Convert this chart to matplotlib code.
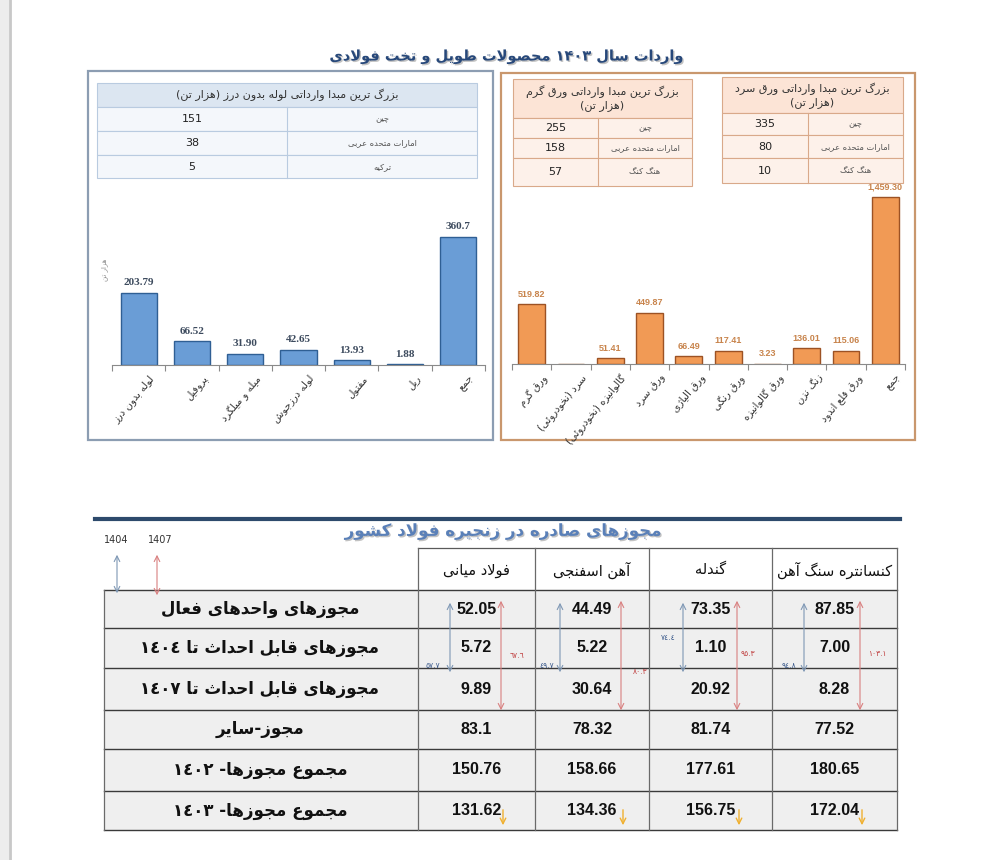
import re
import numpy as np
import matplotlib
matplotlib.use('Agg')
import matplotlib.pyplot as plt
import matplotlib.patheffects as pe
from matplotlib.patches import Rectangle

plt.rcParams['font.family'] = ['DejaVu Sans']

W, H = 984, 860

# --- data -------------------------------------------------------------
title_top = 'واردات سال ۱۴۰۳ محصولات طویل و تخت فولادی'

long_cats = ['لوله بدون درز', 'پروفیل', 'میله و میلگرد', 'لوله درزجوش', 'مفتول', 'ریل', 'جمع']
long_vals = [203.79, 66.52, 31.90, 42.65, 13.93, 1.88, 360.7]
long_lbls = ['203.79', '66.52', '31.90', '42.65', '13.93', '1.88', '360.7']

flat_cats = ['ورق گرم', 'سرد (نخودروئی)', 'گالوانیزه (نخودروئی)', 'ورق سرد', 'ورق الیاژی',
             'ورق رنگی', 'ورق گالوانیزه', 'زنگ نزن', 'ورق قلع اندود', 'جمع']
flat_vals = [519.82, 0, 51.41, 449.87, 66.49, 117.41, 3.23, 136.01, 115.06, 1459.30]

pipe_title = 'بزرگ ترین مبدا وارداتی لوله بدون درز (هزار تن)'
pipe_src = ['چین', 'امارات متحده عربی', 'ترکیه']
pipe_amt = [151, 38, 5]

hot_title = ['بزرگ ترین مبدا وارداتی ورق گرم', '(هزار تن)']
hot_src = ['چین', 'امارات متحده عربی', 'هنگ کنگ']
hot_amt = [255, 158, 57]

cold_title = ['بزرگ ترین مبدا وارداتی ورق سرد', '(هزار تن)']
cold_src = ['چین', 'امارات متحده عربی', 'هنگ کنگ']
cold_amt = [335, 80, 10]

title_bottom = 'مجوزهای صادره در زنجیره فولاد کشور'
products = ['فولاد میانی', 'آهن اسفنجی', 'گندله', 'کنسانتره سنگ آهن']
row_names = ['مجوزهای واحدهای فعال', 'مجوزهای قابل احداث تا ١٤٠٤', 'مجوزهای قابل احداث تا ١٤٠٧',
             'مجوز-سایر', 'مجموع مجوزها- ١٤٠٢', 'مجموع مجوزها- ١٤٠٣']
permits = [
    ['52.05', '44.49', '73.35', '87.85'],
    ['5.72', '5.22', '1.10', '7.00'],
    ['9.89', '30.64', '20.92', '8.28'],
    ['83.1', '78.32', '81.74', '77.52'],
    ['150.76', '158.66', '177.61', '180.65'],
    ['131.62', '134.36', '156.75', '172.04'],
]
cap_1404 = ['٥٧.٧', '٤٩.٧', '٧٤.٤', '٩٤.٨']
cap_1407 = ['٦٧.٦', '٨٠.٣', '٩٥.٣', '١٠٣.١']

# --- poor man's arabic shaping (matplotlib has no bidi) ---------------
FORMS = {
    'ا': ('\uFE8D', '\uFE8E'), 'آ': ('\uFE81', '\uFE82'),
    'ب': ('\uFE8F', '\uFE90', '\uFE91', '\uFE92'), 'پ': ('\uFB56', '\uFB57', '\uFB58', '\uFB59'),
    'ت': ('\uFE95', '\uFE96', '\uFE97', '\uFE98'), 'ث': ('\uFE99', '\uFE9A', '\uFE9B', '\uFE9C'),
    'ج': ('\uFE9D', '\uFE9E', '\uFE9F', '\uFEA0'), 'چ': ('\uFB7A', '\uFB7B', '\uFB7C', '\uFB7D'),
    'ح': ('\uFEA1', '\uFEA2', '\uFEA3', '\uFEA4'), 'خ': ('\uFEA5', '\uFEA6', '\uFEA7', '\uFEA8'),
    'د': ('\uFEA9', '\uFEAA'), 'ذ': ('\uFEAB', '\uFEAC'), 'ر': ('\uFEAD', '\uFEAE'),
    'ز': ('\uFEAF', '\uFEB0'), 'ژ': ('\uFB8A', '\uFB8B'),
    'س': ('\uFEB1', '\uFEB2', '\uFEB3', '\uFEB4'), 'ش': ('\uFEB5', '\uFEB6', '\uFEB7', '\uFEB8'),
    'ص': ('\uFEB9', '\uFEBA', '\uFEBB', '\uFEBC'), 'ض': ('\uFEBD', '\uFEBE', '\uFEBF', '\uFEC0'),
    'ط': ('\uFEC1', '\uFEC2', '\uFEC3', '\uFEC4'), 'ظ': ('\uFEC5', '\uFEC6', '\uFEC7', '\uFEC8'),
    'ع': ('\uFEC9', '\uFECA', '\uFECB', '\uFECC'), 'غ': ('\uFECD', '\uFECE', '\uFECF', '\uFED0'),
    'ف': ('\uFED1', '\uFED2', '\uFED3', '\uFED4'), 'ق': ('\uFED5', '\uFED6', '\uFED7', '\uFED8'),
    'ک': ('\uFB8E', '\uFB8F', '\uFB90', '\uFB91'), 'گ': ('\uFB92', '\uFB93', '\uFB94', '\uFB95'),
    'ل': ('\uFEDD', '\uFEDE', '\uFEDF', '\uFEE0'), 'م': ('\uFEE1', '\uFEE2', '\uFEE3', '\uFEE4'),
    'ن': ('\uFEE5', '\uFEE6', '\uFEE7', '\uFEE8'), 'ه': ('\uFEE9', '\uFEEA', '\uFEEB', '\uFEEC'),
    'و': ('\uFEED', '\uFEEE'), 'ی': ('\uFBFC', '\uFBFD', '\uFBFE', '\uFBFF'),
    'ئ': ('\uFE89', '\uFE8A', '\uFE8B', '\uFE8C'),
}
LAM_ALEF = {'ا': ('\uFEFB', '\uFEFC'), 'آ': ('\uFEF5', '\uFEF6')}
MIRROR = {'(': ')', ')': '('}


def fa(s):
    out = []
    i = 0
    n = len(s)
    while i < n:
        c = s[i]
        prev = i > 0 and s[i - 1] in FORMS and len(FORMS[s[i - 1]]) == 4
        if c == 'ل' and i + 1 < n and s[i + 1] in LAM_ALEF:
            out.append(LAM_ALEF[s[i + 1]][1 if prev else 0])
            i += 2
            continue
        if c in FORMS:
            f = FORMS[c]
            nxt = len(f) == 4 and i + 1 < n and s[i + 1] in FORMS
            if prev and nxt:
                out.append(f[3])
            elif prev:
                out.append(f[1])
            elif nxt:
                out.append(f[2])
            else:
                out.append(f[0])
        else:
            out.append(MIRROR.get(c, c))
        i += 1
    tokens = re.findall(r'[0-9\u0660-\u0669\u06F0-\u06F9]+(?:[.,][0-9\u0660-\u0669\u06F0-\u06F9]+)*|.', ''.join(out))
    return ''.join(tokens[::-1])


fig = plt.figure(figsize=(W / 100, H / 100), dpi=100)
ax = fig.add_axes([0, 0, 1, 1])
ax.set_xlim(0, W)
ax.set_ylim(H, 0)
ax.axis('off')


def px_axes(x0, y0, x1, y1):
    a = fig.add_axes([x0 / W, 1 - y1 / H, (x1 - x0) / W, (y1 - y0) / H])
    a.patch.set_alpha(0)
    return a


# page edge on the left
ax.add_patch(Rectangle((0, 0), 9, H, color='#ededed', lw=0))
ax.plot([10, 10], [0, H], color='#c8c8c8', lw=2)

shadow = [pe.SimplePatchShadow(offset=(1.0, -1.0), shadow_rgbFace='#9a9a9a', alpha=0.6), pe.Normal()]
ax.text(507, 57, fa(title_top), ha='center', va='center', fontsize=10.5, fontweight='bold',
        color='#27487a', path_effects=shadow)

# panel frames
ax.add_patch(Rectangle((88, 71), 405, 369, fill=False, ec='#8c9db2', lw=1.6))
ax.add_patch(Rectangle((501, 73), 414, 367, fill=False, ec='#c9976d', lw=1.6))


def small_table(x0, x1, xs, ys, head, src, amt, fill_head, fill_row, edge, head_size):
    ax.add_patch(Rectangle((x0, ys[0]), x1 - x0, ys[1] - ys[0], fc=fill_head, ec=edge, lw=0.8))
    for k in range(len(src)):
        ax.add_patch(Rectangle((x0, ys[k + 1]), x1 - x0, ys[k + 2] - ys[k + 1], fc=fill_row, ec=edge, lw=0.8))
        ym = (ys[k + 1] + ys[k + 2]) / 2
        ax.text((x0 + xs) / 2, ym, str(amt[k]), ha='center', va='center', fontsize=8, color='#222222')
        ax.text((xs + x1) / 2, ym, fa(src[k]), ha='center', va='center', fontsize=6, color='#555555')
    ax.plot([xs, xs], [ys[1], ys[-1]], color=edge, lw=0.8)
    ax.text((x0 + x1) / 2, (ys[0] + ys[1]) / 2, '\n'.join(fa(t) for t in head), ha='center', va='center',
            fontsize=head_size, color='#333333', linespacing=1.25)


small_table(97, 477, 287, [83, 107, 131, 155, 178], [pipe_title], pipe_src, pipe_amt,
            '#dce6f1', '#f4f7fb', '#b9cbe0', 8)
small_table(513, 692, 598, [79, 118, 138, 158, 186], hot_title, hot_src, hot_amt,
            '#fce4d6', '#fdf1ea', '#d9a98a', 8)
small_table(722, 903, 808, [77, 113, 135, 158, 183], cold_title, cold_src, cold_amt,
            '#fce4d6', '#fdf1ea', '#d9a98a', 8)


def bar_panel(a, cats, vals, lbls, color, edge, lbl_color, lbl_font, lbl_size, top):
    x = np.arange(len(cats))
    a.bar(x, vals, width=0.68, color=color, edgecolor=edge, linewidth=1.0, zorder=2)
    for i, v in enumerate(vals):
        if lbls[i]:
            a.annotate(lbls[i], (i, v), xytext=(0, 4), textcoords='offset points', ha='center', va='bottom',
                       fontsize=lbl_size, fontweight='bold', color=lbl_color, family=lbl_font)
        a.annotate(fa(cats[i]), (i, 0), xytext=(7, -6), textcoords='offset points', rotation=50,
                   ha='right', va='top', rotation_mode='anchor', fontsize=7.3, color='#333333')
    a.set_xlim(-0.5, len(cats) - 0.5)
    a.set_ylim(0, top)
    a.set_xticks(np.arange(-0.5, len(cats)))
    a.set_xticklabels([])
    a.tick_params(axis='x', length=4, color='#8a8a8a', direction='out')
    a.set_yticks([])
    for s in ['top', 'left', 'right']:
        a.spines[s].set_visible(False)
    a.spines['bottom'].set_color('#8a8a8a')


ax_long = px_axes(112, 200, 485, 365)
bar_panel(ax_long, long_cats, long_vals, long_lbls, '#6a9dd6', '#2f5f94', '#3d4b5e',
          ['Liberation Serif', 'DejaVu Serif'], 8, 465)
ax_long.text(-0.63, 268, fa('هزار تن'), rotation=90, ha='center', va='center', fontsize=5, color='#8a8a8a')

ax_flat = px_axes(512, 190, 905, 364)
flat_lbls = [f'{v:,.2f}' if v else '' for v in flat_vals]
bar_panel(ax_flat, flat_cats, flat_vals, flat_lbls, '#f19a55', '#9c5224', '#c8844c',
          ['Liberation Sans', 'DejaVu Sans'], 6.5, 1520)

# --- bottom permits table --------------------------------------------
ax.plot([95, 900], [519, 519], color='#2d4a6c', lw=3)
ax.text(503, 531, fa(title_bottom), ha='center', va='center', fontsize=12, fontweight='bold',
        color='#5a80b8', path_effects=shadow)

ax.text(116, 540, '1404', ha='center', va='center', fontsize=7, color='#333333')
ax.text(160, 540, '1407', ha='center', va='center', fontsize=7, color='#333333')
ax.annotate('', (117, 552), (117, 596), arrowprops=dict(arrowstyle='<->', color='#7f98b5', lw=0.8))
ax.annotate('', (157, 552), (157, 598), arrowprops=dict(arrowstyle='<->', color='#d98080', lw=0.8))

col_x = [418, 535, 649, 772, 897]
row_y = [590, 628, 668, 710, 749, 791, 830]
head_top = 548

ax.add_patch(Rectangle((104, row_y[0]), col_x[-1] - 104, row_y[-1] - row_y[0], fc='#efefef', lw=0, zorder=0))
for y in row_y:
    ax.plot([104, col_x[-1]], [y, y], color='#3a3a3a', lw=1.0)
ax.plot([col_x[0], col_x[-1]], [head_top, head_top], color='#5a5a5a', lw=0.9)
for xc in col_x:
    ax.plot([xc, xc], [head_top, row_y[-1]], color='#6a6a6a', lw=0.9)
ax.plot([104, 104], [row_y[0], row_y[-1]], color='#6a6a6a', lw=0.9)

for j, p in enumerate(products):
    ax.text((col_x[j] + col_x[j + 1]) / 2, (head_top + row_y[0]) / 2 + 1, fa(p), ha='center', va='center',
            fontsize=10.5, color='#111111')

for r, name in enumerate(row_names):
    ym = (row_y[r] + row_y[r + 1]) / 2
    ax.text(260, ym, fa(name), ha='center', va='center', fontsize=12, fontweight='bold', color='#111111')
    for j in range(len(products)):
        ax.text((col_x[j] + col_x[j + 1]) / 2, ym, permits[r][j], ha='center', va='center', fontsize=11.5,
                fontweight='bold', color='#111111', family=['Liberation Sans Narrow', 'Liberation Sans'])

# range arrows 1404 (blue) / 1407 (red)
blue_x = [450, 560, 683, 804]
red_x = [501, 621, 737, 860]
blue_cap = [(433, 665), (547, 665), (668, 638), (789, 665)]
red_cap = [(517, 656), (640, 671), (748, 653), (877, 654)]
for j in range(len(products)):
    ax.annotate('', (blue_x[j], 600), (blue_x[j], 675), arrowprops=dict(arrowstyle='<->', color='#7f98b5', lw=0.8))
    ax.annotate('', (red_x[j], 598), (red_x[j], 713), arrowprops=dict(arrowstyle='<->', color='#d98080', lw=0.8))
    ax.text(blue_cap[j][0], blue_cap[j][1], cap_1404[j], ha='center', va='center', fontsize=5.5, color='#3b5a8c')
    ax.text(red_cap[j][0], red_cap[j][1], cap_1407[j], ha='center', va='center', fontsize=5.5, color='#c04040')
    ax.annotate('', (red_x[j] + 2, 828), (red_x[j] + 2, 807),
                arrowprops=dict(arrowstyle='->', color='#f0b030', lw=1.0))

fig.savefig('out.png', dpi=100)
